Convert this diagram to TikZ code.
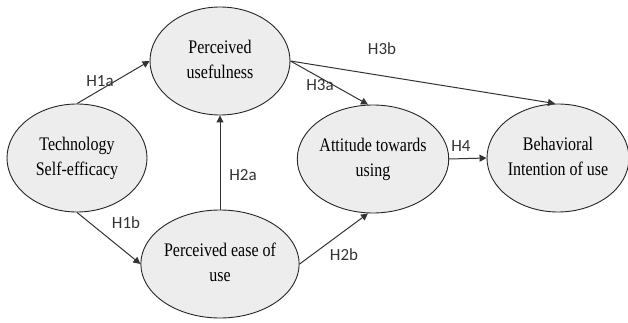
\documentclass[tikz,border=0pt]{standalone}
\usepackage{fontspec}
\setmainfont{Liberation Serif}
\newfontfamily\labelfont{Carlito}
\usetikzlibrary{shapes.geometric,arrows.meta}

% two lines of construct text, a little taller than wide
\newcommand\twolines[2]{\scalebox{1}[1.2]{\begin{tabular}{@{}c@{}}#1\\#2\end{tabular}}}

\tikzset{
    construct/.style={ellipse, draw=black!85, line width=0.9pt, fill=black!7,
        minimum width=140pt, minimum height=108pt, inner sep=0pt,
        font=\fontsize{16}{21}\selectfont},
    path/.style={-{Triangle[length=7pt,width=7pt]}, draw=black!80, line width=1pt},
    hyp/.style={font=\labelfont\fontsize{17}{17}\selectfont, text=black!80, inner sep=0pt}
}

\begin{document}
\begin{tikzpicture}[x=1pt,y=-1pt]
    \useasboundingbox (0,0) rectangle (628,323);
    % constructs
    \node[construct] (useful) at (220,61) {\twolines{Perceived}{usefulness}};
    \node[construct] (selfeff) at (77,158) {\twolines{Technology}{Self-efficacy}};
    \node[construct] (ease) at (220,264) {\twolines{Perceived ease of}{use}};
    \node[construct] (attitude) at (373,159) {\twolines{Attitude towards}{using}};
    \node[construct] (intention) at (558,158) {\twolines{Behavioral}{Intention of use}};
    % hypotheses
    \draw[path] (selfeff.north) -- (useful.west);
    \draw[path] (selfeff.south) -- (ease.west);
    \draw[path] (ease.north) -- (useful.south);
    \draw[path] (ease.east) -- ([xshift=-5pt]attitude.south);
    \draw[path] (useful.east) -- ([xshift=-5pt]attitude.north);
    \draw[path] (useful.east) -- ([xshift=-3pt]intention.north);
    \draw[path] (attitude.east) -- (intention.west);
    % labels
    \node[hyp] (h1a) at (100,81) {H1a};
    \node[hyp] (h1b) at (126,223) {H1b};
    \node[hyp] (h2a) at (243,175) {H2a};
    \node[hyp] (h2b) at (344,255) {H2b};
    \node[hyp] (h3a) at (320,85) {H3a};
    \node[hyp] (h3b) at (382,49) {H3b};
    \node[hyp] (h4) at (461,146) {H4};
\end{tikzpicture}
\end{document}
